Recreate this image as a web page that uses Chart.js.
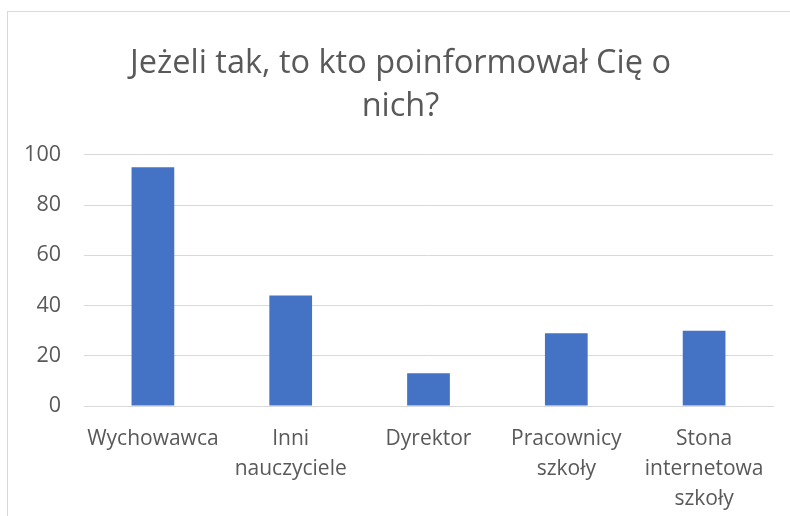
<!DOCTYPE html>
<html>
<head>
<meta charset="utf-8">
<script src="https://cdn.jsdelivr.net/npm/chart.js@4"></script>
<style>
    html, body { margin: 0; padding: 0; background: #fff; }
    #wrap { position: relative; width: 790px; height: 516px; }
    #frame { position: absolute; left: 7px; top: 11px; width: 800px; height: 520px; border: 1px solid #d9d9d9; box-sizing: border-box; }
    canvas { position: absolute; left: 0; top: 0; }
</style>
</head>
<body>
<div id="wrap">
    <div id="frame"></div>
    <canvas id="Chart1" width="790" height="516"></canvas>
</div>
<script>
const titleLines = ['Jeżeli tak, to kto poinformował Cię o', 'nich?'];
const categories = [
    'Wychowawca',
    ['Inni', 'nauczyciele'],
    'Dyrektor',
    ['Pracownicy', 'szkoły'],
    ['Stona', 'internetowa', 'szkoły']
];
const values = [95, 44, 13, 29, 30];
const yTicks = { min: 0, max: 100, step: 20 };

const textColor = '#595959';
const fontFamily = '"Open Sans", sans-serif';

// the title in the original sits a bit right of the canvas centre
const shiftTitle = {
    id: 'shiftTitle',
    afterLayout: (chart) => {
        if (chart.titleBlock) {
            chart.titleBlock.left += 9;
            chart.titleBlock.right += 9;
        }
    }
};

const canvas = document.getElementById('Chart1');
const ctx = canvas.getContext('2d');

new Chart(ctx, {
    type: 'bar',
    data: {
        labels: categories,
        datasets: [{
            data: values,
            backgroundColor: '#4472c4',
            borderWidth: 0,
            barPercentage: 0.31,
            categoryPercentage: 1
        }]
    },
    options: {
        responsive: false,
        animation: false,
        layout: { padding: { left: 10, right: 17, top: 0, bottom: 3 } },
        scales: {
            y: {
                min: yTicks.min,
                max: yTicks.max,
                ticks: {
                    stepSize: yTicks.step,
                    color: textColor,
                    padding: 23,
                    font: { family: fontFamily, size: 21.5 }
                },
                grid: { color: '#d9d9d9', lineWidth: 1, drawTicks: false },
                border: { display: false },
                afterFit: (s) => { s.width = 74; }
            },
            x: {
                ticks: {
                    color: textColor,
                    padding: 18,
                    maxRotation: 0,
                    autoSkip: false,
                    font: { family: fontFamily, size: 21, lineHeight: 1.43 }
                },
                grid: { display: false, drawTicks: false },
                border: { color: '#d9d9d9' },
                afterFit: (s) => { s.height = 107; }
            }
        },
        plugins: {
            legend: { display: false },
            tooltip: { enabled: false },
            title: {
                display: true,
                text: titleLines,
                color: textColor,
                padding: { top: 42, bottom: 27 },
                font: { family: fontFamily, size: 32.5, weight: 'normal', lineHeight: 1.32 }
            }
        }
    },
    plugins: [shiftTitle]
});
</script>
</body>
</html>
